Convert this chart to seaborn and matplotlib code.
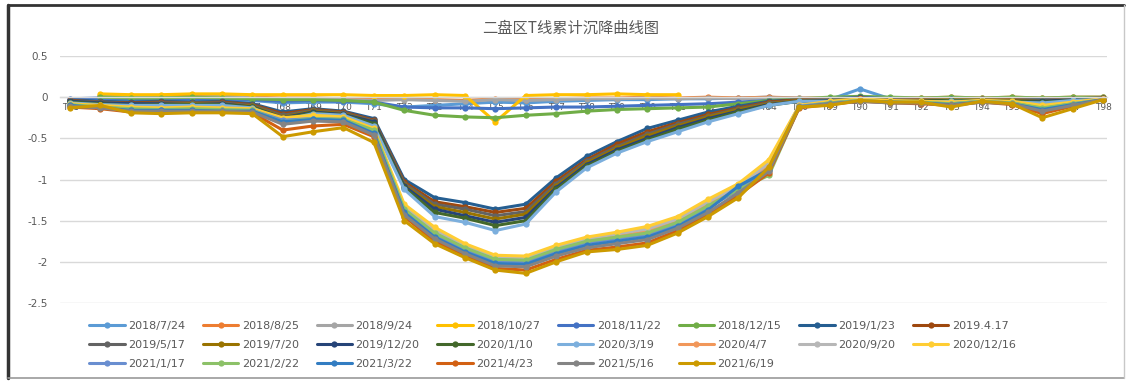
import numpy as np
import pandas as pd
import matplotlib
matplotlib.use("Agg")
import matplotlib.pyplot as plt
from matplotlib.lines import Line2D
import seaborn as sns

nan = np.nan

# Survey points along line T
points = ["T61", "T62", "T63", "T64", "T65", "T66", "T67", "T68", "T69", "T70",
          "T71", "T72", "T73", "T74", "T75", "T76", "T77", "T78", "T79", "T80",
          "T81", "T82", "T83", "T84", "T86", "T89", "T90", "T91", "T92", "T93",
          "T94", "T95", "T96", "T97", "T98"]

# Survey dates (legend order)
dates = ["2018/7/24", "2018/8/25", "2018/9/24", "2018/10/27", "2018/11/22", "2018/12/15",
         "2019/1/23", "2019.4.17", "2019/5/17", "2019/7/20", "2019/12/20", "2020/1/10",
         "2020/3/19", "2020/4/7", "2020/9/20", "2020/12/16", "2021/1/17", "2021/2/22",
         "2021/3/22", "2021/4/23", "2021/5/16", "2021/6/19"]

# Cumulative settlement (m) per survey
s_20180724 = [-0.04, -0.03, -0.04, -0.05, -0.04, -0.05, -0.04, -0.07, -0.06, -0.06,
              -0.08, -0.12, -0.10, -0.08, -0.06, -0.07, -0.05, -0.04, -0.03, -0.03,
              -0.02, -0.02, -0.01, 0.00, -0.02, -0.03, 0.10, -0.02, -0.03, -0.02,
              -0.03, -0.02, -0.04, -0.02, -0.01]
s_20180825 = [nan, 0.02, 0.01, 0.01, 0.02, 0.01, 0.00, -0.01, -0.01, -0.02,
              -0.03, -0.02, -0.03, -0.04, -0.02, -0.03, -0.02, -0.01, -0.01, 0.00,
              -0.01, 0.00, -0.01, 0.00, -0.01, -0.01, 0.00, -0.01, -0.01, 0.00,
              -0.01, 0.00, -0.01, 0.00, 0.00]
s_20180924 = [nan, 0.01, 0.00, -0.01, 0.00, 0.01, -0.01, -0.02, -0.02, -0.03,
              -0.04, -0.03, -0.04, -0.05, -0.03, -0.04, -0.03, -0.02, -0.02, -0.01,
              -0.02, -0.01, -0.02, -0.01, -0.01, -0.02, -0.01, -0.02, -0.02, -0.01,
              -0.02, -0.01, -0.02, -0.01, -0.01]
s_20181027 = [nan, 0.04, 0.03, 0.03, 0.04, 0.04, 0.03, 0.03, 0.03, 0.03,
              0.02, 0.02, 0.03, 0.02, -0.30, 0.02, 0.03, 0.03, 0.04, 0.03,
              0.03, nan, nan, nan, nan, nan, nan, nan, nan, nan,
              nan, nan, nan, nan, nan]
s_20181122 = [-0.02, -0.01, -0.02, -0.03, -0.02, -0.02, -0.03, -0.05, -0.04, -0.05,
              -0.06, -0.12, -0.13, -0.13, -0.14, -0.13, -0.12, -0.12, -0.11, -0.10,
              -0.09, -0.08, -0.06, -0.04, -0.03, -0.03, -0.02, -0.03, -0.03, -0.02,
              -0.03, -0.02, -0.03, -0.02, -0.01]
s_20181215 = [nan, 0.00, -0.01, -0.01, 0.00, -0.01, -0.02, -0.03, -0.03, -0.04,
              -0.06, -0.16, -0.22, -0.24, -0.25, -0.22, -0.20, -0.17, -0.15, -0.14,
              -0.13, -0.12, -0.08, -0.04, -0.02, 0.00, 0.01, 0.00, -0.01, 0.00,
              -0.01, 0.00, -0.01, 0.00, 0.00]
s_20190123 = [-0.03, -0.05, -0.06, -0.05, -0.06, -0.05, -0.08, -0.18, -0.14, -0.17,
              -0.26, -1.00, -1.22, -1.28, -1.36, -1.30, -0.98, -0.72, -0.54, -0.38,
              -0.28, -0.18, -0.11, -0.05, -0.03, -0.02, 0.00, -0.02, -0.03, -0.02,
              -0.02, -0.03, -0.03, -0.02, -0.01]
s_20190417 = [-0.04, -0.06, -0.07, -0.06, -0.07, -0.06, -0.09, -0.20, -0.15, -0.18,
              -0.28, -1.03, -1.27, -1.33, -1.40, -1.35, -1.02, -0.76, -0.57, -0.42,
              -0.31, -0.21, -0.13, -0.06, -0.03, -0.03, -0.01, -0.03, -0.03, -0.03,
              -0.02, -0.03, -0.04, -0.02, -0.01]
s_20190517 = [-0.05, -0.06, -0.08, -0.07, -0.07, -0.07, -0.10, -0.22, -0.16, -0.19,
              -0.29, -1.05, -1.30, -1.36, -1.44, -1.39, -1.05, -0.78, -0.60, -0.45,
              -0.33, -0.23, -0.14, -0.07, -0.04, -0.03, -0.02, -0.03, -0.04, -0.03,
              -0.03, -0.04, -0.04, -0.03, -0.02]
s_20190720 = [-0.06, -0.07, -0.09, -0.08, -0.08, -0.08, -0.11, -0.24, -0.17, -0.20,
              -0.30, -1.07, -1.33, -1.40, -1.48, -1.42, -1.08, -0.80, -0.62, -0.47,
              -0.35, -0.24, -0.15, -0.08, -0.04, -0.04, -0.02, -0.04, -0.04, -0.03,
              -0.03, -0.04, -0.05, -0.03, -0.02]
s_20191220 = [-0.05, -0.07, -0.08, -0.08, -0.09, -0.08, -0.12, -0.25, -0.18, -0.21,
              -0.30, -1.08, -1.36, -1.44, -1.52, -1.46, -1.10, -0.82, -0.64, -0.50,
              -0.37, -0.26, -0.17, -0.09, -0.05, -0.04, -0.03, -0.04, -0.05, -0.04,
              -0.04, -0.05, -0.05, -0.03, -0.02]
s_20200110 = [-0.06, -0.08, -0.10, -0.09, -0.09, -0.09, -0.12, -0.26, -0.19, -0.22,
              -0.32, -1.10, -1.40, -1.47, -1.56, -1.50, -1.12, -0.84, -0.66, -0.52,
              -0.39, -0.28, -0.18, -0.10, -0.05, -0.05, -0.03, -0.05, -0.05, -0.04,
              -0.04, -0.05, -0.06, -0.04, -0.02]
s_20200319 = [-0.07, -0.09, -0.10, -0.10, -0.10, -0.10, -0.13, -0.28, -0.20, -0.22,
              -0.35, -1.12, -1.45, -1.52, -1.62, -1.54, -1.15, -0.86, -0.68, -0.54,
              -0.42, -0.30, -0.20, -0.10, -0.05, -0.05, -0.04, -0.05, -0.06, -0.05,
              -0.05, -0.06, -0.07, -0.04, -0.03]
s_20200407 = [-0.09, -0.11, -0.14, -0.14, -0.14, -0.15, -0.15, -0.29, -0.25, -0.26,
              -0.42, -1.35, -1.63, -1.82, -1.96, -1.97, -1.84, -1.74, -1.69, -1.63,
              -1.50, -1.30, -1.10, -0.82, -0.11, -0.06, -0.03, -0.05, -0.06, -0.07,
              -0.05, -0.06, -0.12, -0.07, -0.02]
s_20200920 = [-0.08, -0.11, -0.13, -0.14, -0.13, -0.14, -0.15, -0.27, -0.24, -0.25,
              -0.40, -1.33, -1.61, -1.80, -1.94, -1.95, -1.82, -1.72, -1.66, -1.60,
              -1.48, -1.27, -1.08, -0.80, -0.10, -0.06, -0.03, -0.05, -0.05, -0.07,
              -0.04, -0.06, -0.11, -0.07, -0.02]
s_20201216 = [-0.08, -0.10, -0.12, -0.13, -0.12, -0.13, -0.14, -0.25, -0.22, -0.24,
              -0.38, -1.30, -1.58, -1.78, -1.92, -1.93, -1.80, -1.70, -1.64, -1.57,
              -1.45, -1.24, -1.05, -0.76, -0.10, -0.05, -0.02, -0.04, -0.05, -0.06,
              -0.04, -0.05, -0.10, -0.06, -0.02]
s_20210117 = [-0.10, -0.12, -0.15, -0.16, -0.15, -0.16, -0.16, -0.28, -0.26, -0.27,
              -0.42, -1.38, -1.67, -1.85, -1.99, -2.00, -1.87, -1.77, -1.72, -1.67,
              -1.54, -1.34, -1.13, -0.86, -0.11, -0.07, -0.04, -0.06, -0.07, -0.08,
              -0.05, -0.07, -0.14, -0.08, -0.03]
s_20210222 = [-0.09, -0.12, -0.14, -0.15, -0.14, -0.15, -0.16, -0.30, -0.26, -0.27,
              -0.40, -1.36, -1.65, -1.83, -1.97, -1.98, -1.85, -1.75, -1.70, -1.65,
              -1.52, -1.32, -1.12, -0.95, -0.12, -0.07, -0.04, -0.06, -0.06, -0.08,
              -0.05, -0.07, -0.13, -0.08, -0.03]
s_20210322 = [-0.10, -0.13, -0.16, -0.16, -0.16, -0.17, -0.17, -0.30, -0.27, -0.28,
              -0.44, -1.40, -1.70, -1.88, -2.02, -2.03, -1.90, -1.80, -1.75, -1.70,
              -1.57, -1.37, -1.08, -0.88, -0.12, -0.08, -0.05, -0.06, -0.07, -0.09,
              -0.06, -0.08, -0.15, -0.09, -0.03]
s_20210423 = [-0.12, -0.14, -0.18, -0.18, -0.18, -0.18, -0.19, -0.40, -0.35, -0.33,
              -0.48, -1.45, -1.75, -1.92, -2.08, -2.10, -1.97, -1.86, -1.82, -1.77,
              -1.62, -1.43, -1.19, -0.92, -0.13, -0.09, -0.05, -0.07, -0.08, -0.10,
              -0.06, -0.09, -0.20, -0.11, -0.03]
s_20210516 = [-0.11, -0.13, -0.17, -0.17, -0.17, -0.17, -0.18, -0.33, -0.29, -0.30,
              -0.46, -1.43, -1.72, -1.90, -2.05, -2.06, -1.93, -1.83, -1.78, -1.73,
              -1.59, -1.40, -1.16, -0.90, -0.12, -0.08, -0.05, -0.07, -0.07, -0.10,
              -0.06, -0.08, -0.17, -0.10, -0.03]
s_20210619 = [-0.13, -0.10, -0.19, -0.20, -0.19, -0.19, -0.20, -0.48, -0.42, -0.37,
              -0.55, -1.50, -1.78, -1.95, -2.10, -2.14, -2.00, -1.88, -1.85, -1.80,
              -1.65, -1.45, -1.22, -0.85, -0.12, -0.10, -0.04, -0.06, -0.06, -0.12,
              -0.05, -0.08, -0.25, -0.14, -0.03]

series = [s_20180724, s_20180825, s_20180924, s_20181027, s_20181122, s_20181215,
          s_20190123, s_20190417, s_20190517, s_20190720, s_20191220, s_20200110,
          s_20200319, s_20200407, s_20200920, s_20201216, s_20210117, s_20210222,
          s_20210322, s_20210423, s_20210516, s_20210619]

# Office-style series colours
colors = ["#5B9BD5", "#ED7D31", "#A5A5A5", "#FFC000", "#4472C4", "#70AD47",
          "#255E91", "#9E480E", "#636363", "#997300", "#264478", "#43682B",
          "#7CAFDD", "#F1975A", "#B7B7B7", "#FFCD33", "#698ED0", "#8CC168",
          "#327DC2", "#D26012", "#848484", "#CC9A00"]

yticks = [0.5, 0, -0.5, -1, -1.5, -2, -2.5]
ytick_labels = ["0.5", "0", "-0.5", "-1", "-1.5", "-2", "-2.5"]
title = "二盘区T线累计沉降曲线图"

sns.set_theme(style="white")
plt.rcParams["font.family"] = ["DejaVu Sans"]
plt.rcParams["axes.unicode_minus"] = False

W, H = 1134, 382
fig = plt.figure(figsize=(W / 100, H / 100), dpi=100)
fig.patch.set_facecolor("white")

ax = fig.add_axes([60 / W, 1 - 303 / H, 1047 / W, 247 / H])

x_idx = np.arange(len(points))
frames = []
for d, vals in zip(dates, series):
    frames.append(pd.DataFrame({"pos": x_idx, "value": vals, "date": d}))
df = pd.concat(frames, ignore_index=True).dropna()

palette = dict(zip(dates, colors))
for d in dates:
    sub = df[df["date"] == d]
    sns.lineplot(data=sub, x="pos", y="value", ax=ax, color=palette[d],
                 linewidth=2.2, marker="o", markersize=4.5, markeredgewidth=0,
                 sort=False, errorbar=None, legend=False)

ax.set_xlim(-0.33, 34.13)
ax.set_ylim(-2.5, 0.5)
ax.set_yticks(yticks)
ax.set_yticklabels(ytick_labels)
ax.set_xticks(x_idx)
ax.set_xticklabels(points)
ax.set_xlabel("")
ax.set_ylabel("")

ax.grid(axis="y", color="#D9D9D9", linewidth=1.0)
ax.grid(axis="x", visible=False)
ax.set_axisbelow(True)
for side in ["top", "right", "left"]:
    ax.spines[side].set_visible(False)
ax.spines["bottom"].set_position(("data", 0))
ax.spines["bottom"].set_color("#D9D9D9")
ax.spines["bottom"].set_linewidth(1.0)
ax.tick_params(axis="y", length=0, pad=9, labelsize=7.5, labelcolor="#595959")
ax.tick_params(axis="x", length=0, pad=4, labelsize=6.5, labelcolor="#595959")

fig.text(0.503, 1 - 28 / H, title, ha="center", va="center", fontsize=11,
         color="#595959", family=["Noto Sans CJK SC", "DejaVu Sans"])

# legend reads row by row, 8 entries per row
ncol = 8
handle_map = {d: Line2D([0], [0], color=c, linewidth=2.2, marker="o", markersize=4.5,
                        markeredgewidth=0) for d, c in zip(dates, colors)}
order = []
for j in range(ncol):
    order.extend(dates[j::ncol])
leg = fig.legend([handle_map[d] for d in order], order, loc="upper center", ncol=ncol,
                 bbox_to_anchor=(0.487, 1 - 311 / H), frameon=False,
                 fontsize=8, labelcolor="#595959", handlelength=3.2,
                 handletextpad=0.3, columnspacing=1.6, labelspacing=0.8)

# chart frame
fig.add_artist(Line2D([8 / W, 1124 / W], [1 - 5 / H, 1 - 5 / H], color="#333333", linewidth=2.0))
fig.add_artist(Line2D([8 / W, 8 / W], [1 - 5 / H, 1 - 378 / H], color="#333333", linewidth=2.5))
fig.add_artist(Line2D([8 / W, 1124 / W], [1 - 378 / H, 1 - 378 / H], color="#9A9A9A", linewidth=1.2))
fig.add_artist(Line2D([1124 / W, 1124 / W], [1 - 5 / H, 1 - 378 / H], color="#C8C8C8", linewidth=1.0))

fig.savefig("out.png", dpi=100)
